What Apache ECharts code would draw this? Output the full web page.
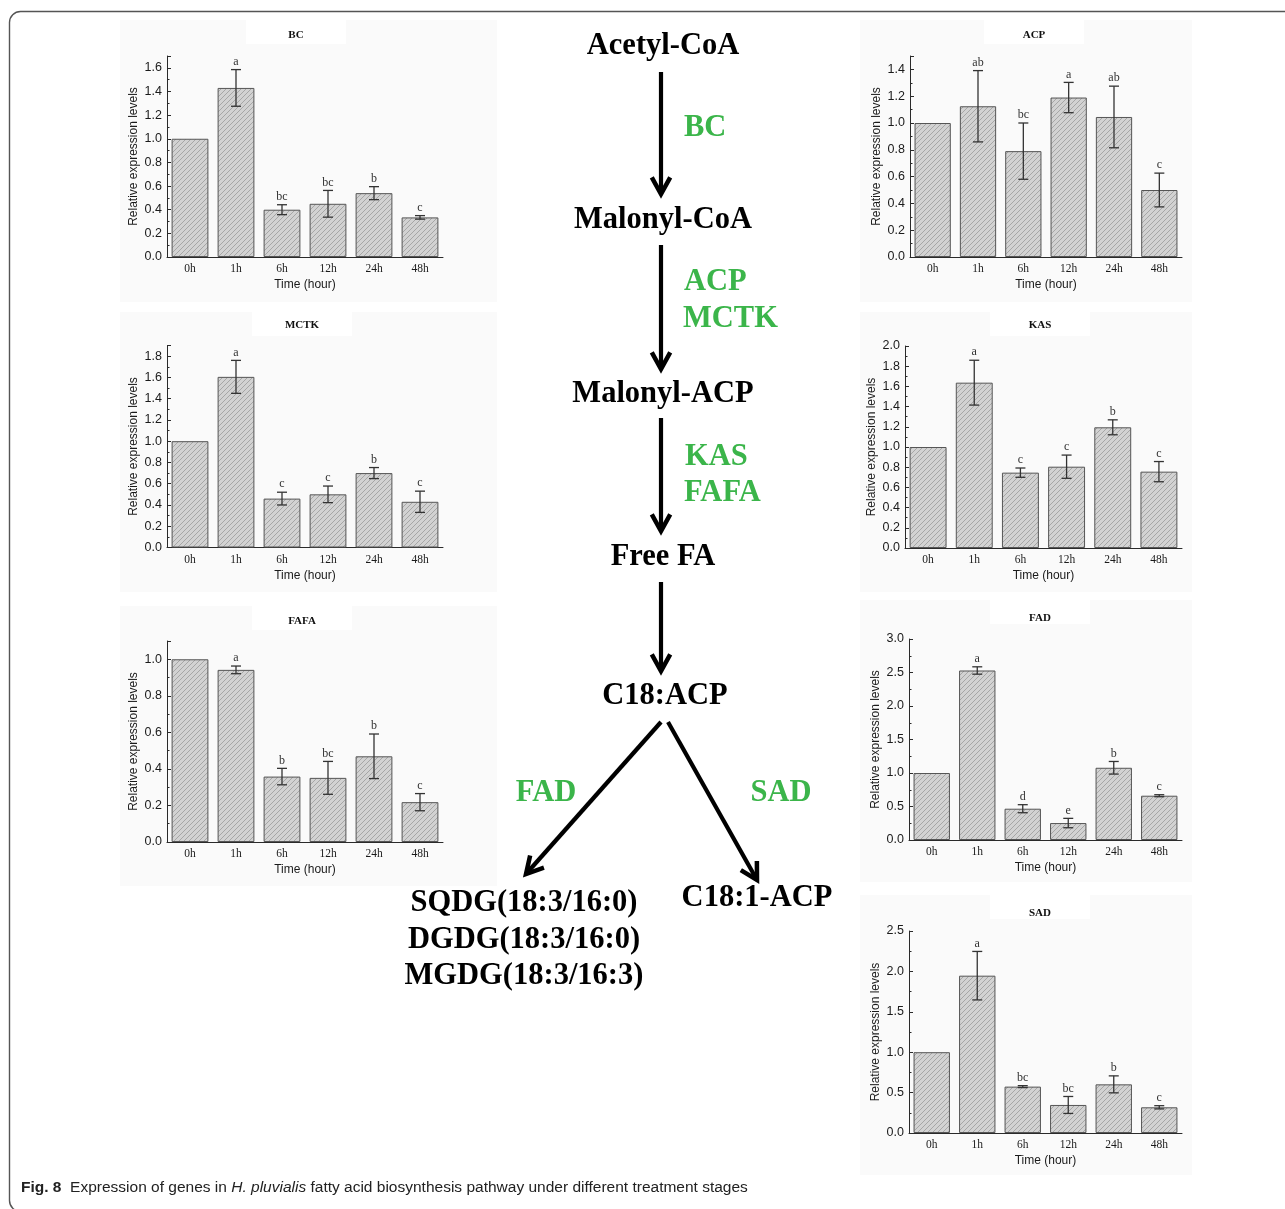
<!DOCTYPE html>
<html>
<head>
<meta charset="utf-8">
<script src="https://cdn.jsdelivr.net/npm/echarts@6/dist/echarts.min.js"></script>
<style>
html,body{margin:0;padding:0;background:#fff;}
#c{width:1285px;height:1209px;}
</style>
</head>
<body>
<div id="c"></div>
<script>
// ---------- DATA ----------
const categories = ['0h', '1h', '6h', '12h', '24h', '48h'];

const bcMean = [1.00, 1.43, 0.40, 0.45, 0.54, 0.335];
const bcErr  = [0, 0.155, 0.042, 0.113, 0.055, 0.015];
const bcSig  = ['', 'a', 'bc', 'bc', 'b', 'c'];

const acpMean = [1.00, 1.125, 0.79, 1.19, 1.045, 0.50];
const acpErr  = [0, 0.266, 0.21, 0.113, 0.23, 0.126];
const acpSig  = ['', 'ab', 'bc', 'a', 'ab', 'c'];

const mctkMean = [1.00, 1.605, 0.46, 0.50, 0.70, 0.43];
const mctkErr  = [0, 0.155, 0.06, 0.078, 0.052, 0.10];
const mctkSig  = ['', 'a', 'c', 'c', 'b', 'c'];

const kasMean = [1.00, 1.637, 0.746, 0.805, 1.195, 0.756];
const kasErr  = [0, 0.222, 0.046, 0.115, 0.074, 0.10];
const kasSig  = ['', 'a', 'c', 'c', 'b', 'c'];

const fafaMean = [1.00, 0.942, 0.358, 0.351, 0.469, 0.218];
const fafaErr  = [0, 0.021, 0.045, 0.09, 0.122, 0.047];
const fafaSig  = ['', 'a', 'b', 'bc', 'b', 'c'];

const fadMean = [1.00, 2.53, 0.467, 0.253, 1.078, 0.661];
const fadErr  = [0, 0.055, 0.06, 0.07, 0.094, 0.015];
const fadSig  = ['', 'a', 'd', 'e', 'b', 'c'];

const sadMean = [1.00, 1.947, 0.574, 0.347, 0.602, 0.318];
const sadErr  = [0, 0.30, 0.012, 0.105, 0.105, 0.02];
const sadSig  = ['', 'a', 'bc', 'bc', 'b', 'c'];

const yMaxes     = [1.7, 1.5, 1.9, 2.0, 1.1, 3.0, 2.5];
const yIntervals = [0.2, 0.2, 0.2, 0.2, 0.2, 0.5, 0.5];
const panelTitles = ['BC', 'ACP', 'MCTK', 'KAS', 'FAFA', 'FAD', 'SAD'];

const pathwayNodes = ['Acetyl-CoA', 'Malonyl-CoA', 'Malonyl-ACP', 'Free FA', 'C18:ACP'];
const lipidProducts = ['SQDG(18:3/16:0)', 'DGDG(18:3/16:0)', 'MGDG(18:3/16:3)'];
const satProduct = 'C18:1-ACP';
const enzymeLabels = ['BC', 'ACP', 'MCTK', 'KAS', 'FAFA', 'FAD', 'SAD'];

const xName = 'Time (hour)';
const yName = 'Relative expression levels';

// ---------- LAYOUT ----------
const panels = [
  {mean: bcMean,   err: bcErr,   sig: bcSig,   grid: {left: 167, top: 56,  width: 276, height: 201}, title: [296, 35],  bg: [120, 20, 377, 282]},
  {mean: acpMean,  err: acpErr,  sig: acpSig,  grid: {left: 910, top: 56,  width: 272, height: 201}, title: [1034, 35], bg: [860, 20, 332, 282]},
  {mean: mctkMean, err: mctkErr, sig: mctkSig, grid: {left: 167, top: 345.5, width: 276, height: 202}, title: [302, 325], bg: [120, 312, 377, 280]},
  {mean: kasMean,  err: kasErr,  sig: kasSig,  grid: {left: 905, top: 346, width: 277, height: 202}, title: [1040, 325], bg: [860, 312, 332, 280]},
  {mean: fafaMean, err: fafaErr, sig: fafaSig, grid: {left: 167, top: 641, width: 276, height: 201}, title: [302, 621], bg: [120, 606, 377, 280]},
  {mean: fadMean,  err: fadErr,  sig: fadSig,  grid: {left: 909, top: 639, width: 273, height: 201}, title: [1040, 618], bg: [860, 600, 332, 282]},
  {mean: sadMean,  err: sadErr,  sig: sadSig,  grid: {left: 909, top: 931, width: 273, height: 202}, title: [1040, 913], bg: [860, 895, 332, 280]}
];

function makeHatch() {
  const c = document.createElement('canvas');
  c.width = 5; c.height = 5;
  const g = c.getContext('2d');
  g.fillStyle = '#d2d2d2';
  g.fillRect(0, 0, 5, 5);
  g.strokeStyle = '#a0a0a0';
  g.lineWidth = 0.9;
  g.beginPath();
  g.moveTo(0, 5); g.lineTo(5, 0);
  g.moveTo(-1, 1); g.lineTo(1, -1);
  g.moveTo(4, 6); g.lineTo(6, 4);
  g.stroke();
  return c;
}
const hatch = makeHatch();

const AX = '#2a2a2a';
const grids = [], xAxes = [], yAxes = [], series = [];
const graphics = [];

// outer frame
graphics.push({type: 'rect', z: 0, shape: {x: 9.5, y: 11.5, width: 1300, height: 1200, r: 11},
  style: {fill: 'none', stroke: '#555', lineWidth: 1.4}});

panels.forEach((p, i) => {
  grids.push(Object.assign({containLabel: false}, p.grid));
  graphics.push({type: 'rect', z: 0, shape: {x: p.bg[0], y: p.bg[1], width: p.bg[2], height: p.bg[3]},
    style: {fill: '#fafafa'}});
  graphics.push({type: 'rect', z: 0, shape: {x: p.title[0] - 50, y: p.bg[1], width: 100, height: 24},
    style: {fill: '#ffffff'}});
  graphics.push({type: 'text', z: 1, style: {text: panelTitles[i], x: p.title[0], y: p.title[1],
    align: 'center', verticalAlign: 'middle', font: 'bold 11px "Liberation Serif"', fill: '#111'}});

  const iv = yIntervals[i];
  xAxes.push({
    type: 'category', gridIndex: i, data: categories, z: 5,
    axisLine: {lineStyle: {color: AX, width: 1}},
    axisTick: {inside: true, alignWithLabel: true, length: 4, lineStyle: {color: AX}},
    axisLabel: {fontFamily: 'Liberation Serif', fontSize: 11.5, color: '#1a1a1a', margin: 6},
    name: xName, nameLocation: 'middle', nameGap: 22,
    nameTextStyle: {fontFamily: 'Liberation Sans', fontSize: 12, color: '#1a1a1a'}
  });
  yAxes.push({
    type: 'value', gridIndex: i, min: 0, max: yMaxes[i], interval: iv, z: 5,
    axisLine: {show: true, lineStyle: {color: AX, width: 1}},
    axisTick: {show: true, inside: true, length: 4, lineStyle: {color: AX}},
    minorTick: {show: true, splitNumber: 2, length: 2.5, lineStyle: {color: AX}},
    splitLine: {show: false},
    axisLabel: {
      fontFamily: 'Liberation Sans', fontSize: 12.5, color: '#1a1a1a', margin: 5,
      formatter: v => (Math.abs(v / iv - Math.round(v / iv)) < 1e-6 ? v.toFixed(1) : '')
    },
    name: yName, nameLocation: 'middle', nameGap: 27,
    nameTextStyle: {fontFamily: 'Liberation Sans', fontSize: 12, color: '#1a1a1a'}
  });
  series.push({
    type: 'bar', xAxisIndex: i, yAxisIndex: i, data: p.mean, barWidth: '80%', z: 6,
    itemStyle: {color: {image: hatch, repeat: 'repeat'}, borderColor: '#555', borderWidth: 1},
    silent: true
  });
  const sig = p.sig, err = p.err;
  series.push({
    type: 'custom', xAxisIndex: i, yAxisIndex: i, z: 7, silent: true,
    data: p.mean.map((m, k) => [k, m - err[k], m + err[k]]),
    renderItem: (params, api) => {
      const k = api.value(0);
      const lo = api.coord([k, api.value(1)]);
      const hi = api.coord([k, api.value(2)]);
      const children = [];
      const st = {stroke: '#333', lineWidth: 1.3};
      if (err[params.dataIndex] > 0) {
        children.push({type: 'line', shape: {x1: hi[0], y1: hi[1], x2: lo[0], y2: lo[1]}, style: st});
        children.push({type: 'line', shape: {x1: hi[0] - 5, y1: hi[1], x2: hi[0] + 5, y2: hi[1]}, style: st});
        children.push({type: 'line', shape: {x1: lo[0] - 5, y1: lo[1], x2: lo[0] + 5, y2: lo[1]}, style: st});
      }
      const s = sig[params.dataIndex];
      if (s) {
        children.push({type: 'text', style: {text: s, x: hi[0], y: hi[1] - 2, align: 'center',
          verticalAlign: 'bottom', font: '12px "Liberation Serif"', fill: '#333'}});
      }
      return {type: 'group', children};
    }
  });
});

// ---------- PATHWAY ----------
const pathFont = 'bold 30.5px "Liberation Serif"';
const nodePos = [[663, 46], [663, 220], [663, 394], [663, 557], [665, 696]];
pathwayNodes.forEach((t, k) => {
  graphics.push({type: 'text', z: 2, style: {text: t, x: nodePos[k][0], y: nodePos[k][1],
    align: 'center', verticalAlign: 'middle', font: pathFont, fill: '#000'}});
});
const lipY = [903, 940, 976];
lipidProducts.forEach((t, k) => {
  graphics.push({type: 'text', z: 2, style: {text: t, x: 524, y: lipY[k],
    align: 'center', verticalAlign: 'middle', font: pathFont, fill: '#000'}});
});
graphics.push({type: 'text', z: 2, style: {text: satProduct, x: 757, y: 898,
  align: 'center', verticalAlign: 'middle', font: pathFont, fill: '#000'}});

const GREEN = '#3bb54a';
const enzPos = [[684, 128, 'left'], [684, 282, 'left'], [683, 319, 'left'], [685, 457, 'left'],
  [684, 493, 'left'], [546, 793, 'center'], [781, 793, 'center']];
enzymeLabels.forEach((t, k) => {
  graphics.push({type: 'text', z: 2, style: {text: t, x: enzPos[k][0], y: enzPos[k][1],
    align: enzPos[k][2], verticalAlign: 'middle', font: pathFont, fill: GREEN}});
});

function arrow(x1, y1, x2, y2) {
  const dx = x2 - x1, dy = y2 - y1, len = Math.hypot(dx, dy);
  const ux = dx / len, uy = dy / len;
  const L = 19, a = Math.PI / 6.2;
  const rot = (ang) => [x2 - L * (ux * Math.cos(ang) - uy * Math.sin(ang)),
                        y2 - L * (ux * Math.sin(ang) + uy * Math.cos(ang))];
  const pA = rot(a), pB = rot(-a);
  graphics.push({type: 'line', z: 2, shape: {x1, y1, x2: x2 - ux * 2, y2: y2 - uy * 2},
    style: {stroke: '#000', lineWidth: 4.2}});
  graphics.push({type: 'polyline', z: 2, shape: {points: [pA, [x2, y2], pB]},
    style: {stroke: '#000', lineWidth: 4.5, fill: null, lineJoin: 'miter', lineCap: 'butt'}});
}
arrow(661, 72, 661, 194);
arrow(661, 245, 661, 369);
arrow(661, 418, 661, 531);
arrow(661, 582, 661, 671);
arrow(661, 722, 526, 874);
arrow(668, 722, 757, 880);

// ---------- CAPTION ----------
graphics.push({type: 'text', z: 2, style: {
  text: '{b|Fig. 8}  Expression of genes in {i|H. pluvialis} fatty acid biosynthesis pathway under different treatment stages',
  x: 21, y: 1188, verticalAlign: 'middle', align: 'left',
  font: '15.5px "Liberation Sans"', fill: '#222',
  rich: {
    b: {fontWeight: 'bold', fontSize: 15.5, fontFamily: 'Liberation Sans', fill: '#222'},
    i: {fontStyle: 'italic', fontSize: 15.5, fontFamily: 'Liberation Sans', fill: '#222'}
  }
}});

const chart = echarts.init(document.getElementById('c'), null, {renderer: 'canvas'});
chart.setOption({
  animation: false,
  backgroundColor: '#fff',
  grid: grids,
  xAxis: xAxes,
  yAxis: yAxes,
  series: series,
  graphic: {elements: graphics}
});
</script>
</body>
</html>
